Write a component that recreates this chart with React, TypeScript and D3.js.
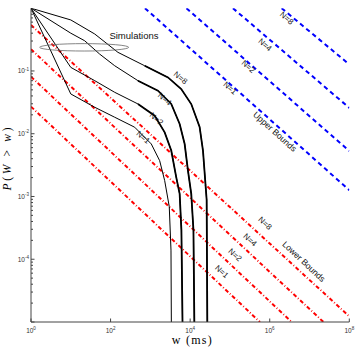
import React, { useEffect, useRef } from 'react';
import * as d3 from 'd3';

type Pt = [number, number];

// simulated tail distributions, [w (ms), P(W > w)]
const simN1: Pt[] = [[1, 1], [10, 0.043], [40, 0.0264], [127, 0.0183], [403, 0.0127], [1054, 0.00687], [1713, 0.00372], [2290, 0.00179], [2985, 6.9e-4], [3300, 1.4e-4], [3430, 1e-6]];
const simN2: Pt[] = [[1, 1], [10, 0.114], [40, 0.07], [127, 0.0457], [488, 0.0298], [1283, 0.0194], [2290, 0.0105], [3350, 0.0054], [4475, 0.00202], [5450, 0.0011], [6030, 2.9e-4], [6710, 1e-6]];
const simN4: Pt[] = [[1, 1], [10, 0.4], [22.3, 0.303], [53, 0.186], [127, 0.121], [488, 0.07], [1550, 0.0485], [3350, 0.0298], [5450, 0.0143], [7280, 0.00685], [8810, 0.00258], [10660, 0.0011], [12100, 2.93e-4], [13200, 1e-6]];
const simN8: Pt[] = [[1, 1], [10, 0.65], [40, 0.388], [153, 0.198], [720, 0.121], [2770, 0.079], [5970, 0.0516], [10660, 0.0297], [17300, 0.0128], [21000, 0.0054], [26000, 8.8e-4], [27500, 1e-6]];

// analytic bounds, end points of each straight line
const lowerN1: Pt[] = [[1, 0.027], [5.68e5, 1e-5]];
const lowerN2: Pt[] = [[1, 0.081], [3.55e6, 1e-5]];
const lowerN4: Pt[] = [[1, 0.221], [2.24e7, 1e-5]];
const lowerN8: Pt[] = [[1, 0.54], [1e8, 1.23e-5]];

const upperN1: Pt[] = [[731, 1], [1e8, 1.26e-3]];
const upperN2: Pt[] = [[8070, 1], [1e8, 5.3e-3]];
const upperN4: Pt[] = [[1.189e5, 1], [1e8, 0.0258]];
const upperN8: Pt[] = [[1.99e6, 1], [1e8, 0.127]];

const nLabels = ['N=1', 'N=2', 'N=4', 'N=8'];
// label anchors [w, P]
const simLabelPos: Pt[] = [[652, 0.00877], [1406, 0.0172], [2290, 0.0357], [5700, 0.0773]];
const upperLabelPos: Pt[] = [[1e5, 0.053], [2.88e5, 0.117], [7.57e5, 0.259], [2.66e6, 0.69]];
const lowerLabelPos: Pt[] = [[6.19e4, 6.34e-5], [1.34e5, 1.17e-4], [3.18e5, 2.03e-4], [7.57e5, 3.74e-4]];

const xTicks = [1, 1e2, 1e4, 1e6, 1e8];
const yTicks = [1e-1, 1e-2, 1e-3, 1e-4];

const App = () => {
  const ref = useRef<SVGSVGElement>(null);

  useEffect(() => {
    const svg = d3.select(ref.current);
    svg.selectAll('*').remove();

    const left = 31, right = 349.3, top = 8.2, bottom = 322;
    const x = d3.scaleLog().domain([1, 1e8]).range([left, right]);
    const y = d3.scaleLog().domain([1e-5, 1]).range([bottom, top]);
    const line = d3.line<Pt>().x(d => x(d[0])).y(d => y(d[1]));

    svg.append('clipPath').attr('id', 'plot-clip')
      .append('rect')
      .attr('x', left).attr('y', top)
      .attr('width', right - left).attr('height', bottom - top);

    const plot = svg.append('g').attr('clip-path', 'url(#plot-clip)');

    // lower bounds, red dash-dot
    [lowerN1, lowerN2, lowerN4, lowerN8].forEach(d => {
      plot.append('path').attr('d', line(d)).attr('fill', 'none')
        .attr('stroke', '#ff0000').attr('stroke-width', 2)
        .attr('stroke-dasharray', '4,2.2,0.8,2.2');
    });

    // upper bounds, blue dashed
    [upperN1, upperN2, upperN4, upperN8].forEach(d => {
      plot.append('path').attr('d', line(d)).attr('fill', 'none')
        .attr('stroke', '#0000ff').attr('stroke-width', 2)
        .attr('stroke-dasharray', '4.5,3.5');
    });

    // simulations, thin at first and heavier in the tail
    [simN1, simN2, simN4, simN8].forEach((d, i) => {
      plot.append('path').attr('d', line(d)).attr('fill', 'none')
        .attr('stroke', '#000').attr('stroke-width', 1);
      if (i > 0) {
        plot.append('path').attr('d', line(d.filter(p => p[0] >= 400))).attr('fill', 'none')
          .attr('stroke', '#000').attr('stroke-width', 1.8);
      }
    });

    // axes
    const axis = svg.append('g').attr('stroke', '#444').attr('stroke-width', 1);
    axis.append('line').attr('x1', left).attr('x2', left).attr('y1', top).attr('y2', bottom);
    axis.append('line').attr('x1', left).attr('x2', right).attr('y1', bottom).attr('y2', bottom);

    for (let e = -5; e < 0; e++) {
      for (let m = 1; m < 10; m++) {
        const v = m * Math.pow(10, e);
        const len = m === 1 ? 3.5 : 2;
        axis.append('line').attr('x1', left).attr('x2', left + len)
          .attr('y1', y(v)).attr('y2', y(v));
      }
    }
    xTicks.forEach(v => {
      axis.append('line').attr('x1', x(v)).attr('x2', x(v))
        .attr('y1', bottom).attr('y2', bottom - 3.5);
    });

    const tickFont = '"Liberation Sans", Arial, sans-serif';
    xTicks.forEach(v => {
      const t = svg.append('text').attr('x', x(v)).attr('y', 333)
        .attr('text-anchor', 'middle').attr('font-family', tickFont)
        .attr('font-size', 6.5).attr('fill', '#333').text('10');
      t.append('tspan').attr('dy', -2.8).attr('font-size', 4.5).text(Math.round(Math.log10(v)));
    });
    yTicks.forEach(v => {
      const t = svg.append('text').attr('x', 29).attr('y', y(v) + 2.5)
        .attr('text-anchor', 'end').attr('font-family', tickFont)
        .attr('font-size', 6.5).attr('fill', '#333').text('10');
      t.append('tspan').attr('dy', -2.8).attr('font-size', 4.5).text(Math.round(Math.log10(v)));
    });

    // axis titles
    const serif = '"Liberation Serif", "Times New Roman", serif';
    const yl = svg.append('text')
      .attr('transform', `translate(10.5,159) rotate(-90)`)
      .attr('text-anchor', 'middle').attr('font-family', serif).attr('font-size', 11.5)
      .attr('textLength', 63).attr('lengthAdjust', 'spacing');
    yl.append('tspan').attr('font-style', 'italic').text('P');
    yl.append('tspan').text('(');
    yl.append('tspan').attr('font-style', 'italic').text('W');
    yl.append('tspan').text(' > ');
    yl.append('tspan').attr('font-style', 'italic').text('w');
    yl.append('tspan').text(')');

    svg.append('text').attr('x', 191.7).attr('y', 344)
      .attr('text-anchor', 'middle').attr('font-family', serif).attr('font-size', 12)
      .attr('textLength', 40).attr('lengthAdjust', 'spacing')
      .text('w (ms)');

    // annotations
    const labelFont = '"Liberation Sans", Arial, sans-serif';
    const rotLabel = (p: Pt, txt: string, angle: number, size: number) => {
      svg.append('text')
        .attr('transform', `translate(${x(p[0])},${y(p[1])}) rotate(${angle})`)
        .attr('text-anchor', 'middle').attr('dominant-baseline', 'central')
        .attr('font-family', labelFont).attr('font-size', size).attr('fill', '#111')
        .text(txt);
    };
    simLabelPos.forEach((p, i) => rotLabel(p, nLabels[i], 40, 8));
    upperLabelPos.forEach((p, i) => rotLabel(p, nLabels[i], 41, 8));
    lowerLabelPos.forEach((p, i) => rotLabel(p, nLabels[i], 43, 8));
    rotLabel([1.35e6, 0.0108], 'Upper Bounds', 42, 8.6);
    rotLabel([7.23e6, 9.2e-5], 'Lower Bounds', 43, 8.6);

    svg.append('text').attr('x', x(387)).attr('y', y(0.374))
      .attr('text-anchor', 'middle').attr('dominant-baseline', 'central')
      .attr('font-family', labelFont).attr('font-size', 9.5).attr('fill', '#111')
      .text('Simulations');

    svg.append('ellipse').attr('cx', x(21.7)).attr('cy', y(0.238))
      .attr('rx', 44.5).attr('ry', 3.7)
      .attr('fill', 'none').attr('stroke', '#666').attr('stroke-width', 0.8);
  }, []);

  return (
    <svg ref={ref} width={360} height={350}
      style={{ position: 'absolute', left: 0, top: 0, background: '#fff' }} />
  );
};

export default App;
